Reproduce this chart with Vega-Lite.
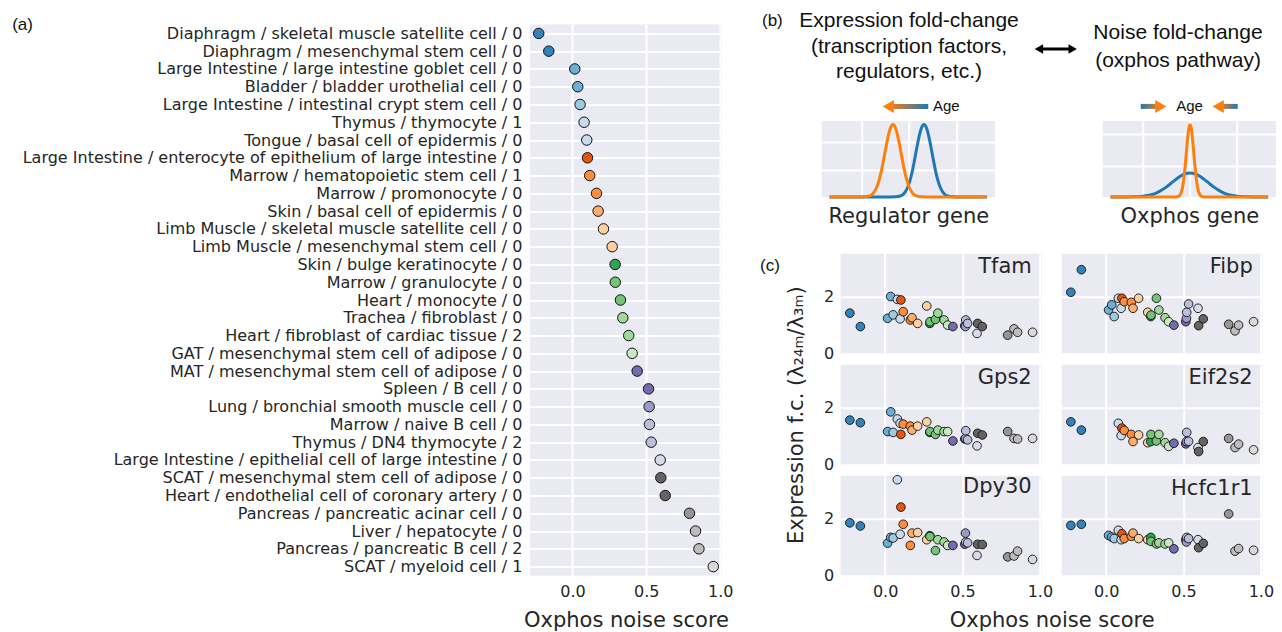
{
  "$schema": "https://vega.github.io/schema/vega-lite/v6.json",
  "padding": {"left": 12, "top": 9.5, "right": 0, "bottom": 0},
  "config": {
    "font": "DejaVu Sans",
    "view": {"fill": "#EAEAF2", "stroke": null},
    "axis": {"domain": false, "ticks": false, "gridColor": "#ffffff", "gridWidth": 2, "gridOpacity": 1, "labelColor": "#262626", "titleColor": "#262626", "labelFont": "DejaVu Sans", "titleFont": "DejaVu Sans", "labelFontSize": 16, "titleFontSize": 21, "titleFontWeight": "normal", "labelPadding": 8},
    "title": {"fontWeight": "normal", "color": "#111111"},
    "range": {"category": ["#3182bd","#3182bd","#6baed6","#6baed6","#9ecae1","#c6dbef","#c6dbef","#e6550d","#fd8d3c","#fd8d3c","#fdae6b","#fdd0a2","#fdd0a2","#31a354","#74c476","#74c476","#a1d99b","#a1d99b","#c7e9c0","#756bb1","#756bb1","#9e9ac8","#bcbddc","#bcbddc","#dadaeb","#636363","#636363","#969696","#bdbdbd","#bdbdbd","#d9d9d9"]},
    "circle": {"stroke": "#111111", "opacity": 1}
  },
  "datasets": {
    "cells": [
      {"k": 1, "cell": "Diaphragm / skeletal muscle satellite cell / 0", "noise": -0.228},
      {"k": 2, "cell": "Diaphragm / mesenchymal stem cell / 0", "noise": -0.160},
      {"k": 3, "cell": "Large Intestine / large intestine goblet cell / 0", "noise": 0.016},
      {"k": 4, "cell": "Bladder / bladder urothelial cell / 0", "noise": 0.036},
      {"k": 5, "cell": "Large Intestine / intestinal crypt stem cell / 0", "noise": 0.052},
      {"k": 6, "cell": "Thymus / thymocyte / 1", "noise": 0.079},
      {"k": 7, "cell": "Tongue / basal cell of epidermis / 0", "noise": 0.097},
      {"k": 8, "cell": "Large Intestine / enterocyte of epithelium of large intestine / 0", "noise": 0.102},
      {"k": 9, "cell": "Marrow / hematopoietic stem cell / 1", "noise": 0.117},
      {"k": 10, "cell": "Marrow / promonocyte / 0", "noise": 0.163},
      {"k": 11, "cell": "Skin / basal cell of epidermis / 0", "noise": 0.174},
      {"k": 12, "cell": "Limb Muscle / skeletal muscle satellite cell / 0", "noise": 0.210},
      {"k": 13, "cell": "Limb Muscle / mesenchymal stem cell / 0", "noise": 0.269},
      {"k": 14, "cell": "Skin / bulge keratinocyte / 0", "noise": 0.289},
      {"k": 15, "cell": "Marrow / granulocyte / 0", "noise": 0.290},
      {"k": 16, "cell": "Heart / monocyte / 0", "noise": 0.325},
      {"k": 17, "cell": "Trachea / fibroblast / 0", "noise": 0.341},
      {"k": 18, "cell": "Heart / fibroblast of cardiac tissue / 2", "noise": 0.381},
      {"k": 19, "cell": "GAT / mesenchymal stem cell of adipose / 0", "noise": 0.404},
      {"k": 20, "cell": "MAT / mesenchymal stem cell of adipose / 0", "noise": 0.438},
      {"k": 21, "cell": "Spleen / B cell / 0", "noise": 0.515},
      {"k": 22, "cell": "Lung / bronchial smooth muscle cell / 0", "noise": 0.519},
      {"k": 23, "cell": "Marrow / naive B cell / 0", "noise": 0.521},
      {"k": 24, "cell": "Thymus / DN4 thymocyte / 2", "noise": 0.533},
      {"k": 25, "cell": "Large Intestine / epithelial cell of large intestine / 0", "noise": 0.594},
      {"k": 26, "cell": "SCAT / mesenchymal stem cell of adipose / 0", "noise": 0.598},
      {"k": 27, "cell": "Heart / endothelial cell of coronary artery / 0", "noise": 0.628},
      {"k": 28, "cell": "Pancreas / pancreatic acinar cell / 0", "noise": 0.792},
      {"k": 29, "cell": "Liver / hepatocyte / 0", "noise": 0.833},
      {"k": 30, "cell": "Pancreas / pancreatic B cell / 2", "noise": 0.856},
      {"k": 31, "cell": "SCAT / myeloid cell / 1", "noise": 0.953}
    ],
    "fc": [
      {"g": "Tfam", "k": 1, "fc": 1.42}, {"g": "Tfam", "k": 2, "fc": 0.95}, {"g": "Tfam", "k": 3, "fc": 1.24}, {"g": "Tfam", "k": 4, "fc": 2.0}, {"g": "Tfam", "k": 5, "fc": 1.36}, {"g": "Tfam", "k": 6, "fc": 1.9}, {"g": "Tfam", "k": 7, "fc": 1.22}, {"g": "Tfam", "k": 8, "fc": 1.88}, {"g": "Tfam", "k": 9, "fc": 1.47}, {"g": "Tfam", "k": 10, "fc": 1.18}, {"g": "Tfam", "k": 11, "fc": 1.26}, {"g": "Tfam", "k": 12, "fc": 1.06}, {"g": "Tfam", "k": 13, "fc": 1.67}, {"g": "Tfam", "k": 14, "fc": 1.06}, {"g": "Tfam", "k": 15, "fc": 1.12}, {"g": "Tfam", "k": 16, "fc": 1.2}, {"g": "Tfam", "k": 17, "fc": 1.42}, {"g": "Tfam", "k": 18, "fc": 1.18}, {"g": "Tfam", "k": 19, "fc": 1.0}, {"g": "Tfam", "k": 20, "fc": 0.95}, {"g": "Tfam", "k": 21, "fc": 0.98}, {"g": "Tfam", "k": 22, "fc": 0.95}, {"g": "Tfam", "k": 23, "fc": 1.18}, {"g": "Tfam", "k": 24, "fc": 1.06}, {"g": "Tfam", "k": 25, "fc": 0.71}, {"g": "Tfam", "k": 26, "fc": 1.06}, {"g": "Tfam", "k": 27, "fc": 0.95}, {"g": "Tfam", "k": 28, "fc": 0.65}, {"g": "Tfam", "k": 29, "fc": 0.87}, {"g": "Tfam", "k": 30, "fc": 0.75}, {"g": "Tfam", "k": 31, "fc": 0.75},
      {"g": "Fibp", "k": 1, "fc": 2.15}, {"g": "Fibp", "k": 2, "fc": 2.94}, {"g": "Fibp", "k": 3, "fc": 1.53}, {"g": "Fibp", "k": 4, "fc": 1.71}, {"g": "Fibp", "k": 5, "fc": 1.3}, {"g": "Fibp", "k": 6, "fc": 1.94}, {"g": "Fibp", "k": 7, "fc": 1.59}, {"g": "Fibp", "k": 8, "fc": 1.94}, {"g": "Fibp", "k": 9, "fc": 1.82}, {"g": "Fibp", "k": 10, "fc": 1.8}, {"g": "Fibp", "k": 11, "fc": 1.59}, {"g": "Fibp", "k": 12, "fc": 1.94}, {"g": "Fibp", "k": 13, "fc": 1.45}, {"g": "Fibp", "k": 14, "fc": 1.3}, {"g": "Fibp", "k": 15, "fc": 1.35}, {"g": "Fibp", "k": 16, "fc": 1.94}, {"g": "Fibp", "k": 17, "fc": 1.53}, {"g": "Fibp", "k": 18, "fc": 1.26}, {"g": "Fibp", "k": 19, "fc": 1.12}, {"g": "Fibp", "k": 20, "fc": 1.0}, {"g": "Fibp", "k": 21, "fc": 1.12}, {"g": "Fibp", "k": 22, "fc": 1.24}, {"g": "Fibp", "k": 23, "fc": 1.45}, {"g": "Fibp", "k": 24, "fc": 1.74}, {"g": "Fibp", "k": 25, "fc": 1.59}, {"g": "Fibp", "k": 26, "fc": 0.98}, {"g": "Fibp", "k": 27, "fc": 1.22}, {"g": "Fibp", "k": 28, "fc": 1.03}, {"g": "Fibp", "k": 29, "fc": 0.8}, {"g": "Fibp", "k": 30, "fc": 1.0}, {"g": "Fibp", "k": 31, "fc": 1.12},
      {"g": "Gps2", "k": 1, "fc": 1.56}, {"g": "Gps2", "k": 2, "fc": 1.47}, {"g": "Gps2", "k": 3, "fc": 1.16}, {"g": "Gps2", "k": 4, "fc": 1.85}, {"g": "Gps2", "k": 5, "fc": 1.13}, {"g": "Gps2", "k": 6, "fc": 1.6}, {"g": "Gps2", "k": 7, "fc": 1.45}, {"g": "Gps2", "k": 8, "fc": 1.06}, {"g": "Gps2", "k": 9, "fc": 1.42}, {"g": "Gps2", "k": 10, "fc": 1.35}, {"g": "Gps2", "k": 11, "fc": 1.21}, {"g": "Gps2", "k": 12, "fc": 1.35}, {"g": "Gps2", "k": 13, "fc": 1.5}, {"g": "Gps2", "k": 14, "fc": 1.13}, {"g": "Gps2", "k": 15, "fc": 1.16}, {"g": "Gps2", "k": 16, "fc": 1.06}, {"g": "Gps2", "k": 17, "fc": 1.21}, {"g": "Gps2", "k": 18, "fc": 1.16}, {"g": "Gps2", "k": 19, "fc": 1.16}, {"g": "Gps2", "k": 20, "fc": 0.83}, {"g": "Gps2", "k": 21, "fc": 0.9}, {"g": "Gps2", "k": 22, "fc": 0.92}, {"g": "Gps2", "k": 23, "fc": 1.19}, {"g": "Gps2", "k": 24, "fc": 0.87}, {"g": "Gps2", "k": 25, "fc": 0.66}, {"g": "Gps2", "k": 26, "fc": 1.1}, {"g": "Gps2", "k": 27, "fc": 1.04}, {"g": "Gps2", "k": 28, "fc": 1.16}, {"g": "Gps2", "k": 29, "fc": 0.92}, {"g": "Gps2", "k": 30, "fc": 0.9}, {"g": "Gps2", "k": 31, "fc": 0.92},
      {"g": "Eif2s2", "k": 1, "fc": 1.5}, {"g": "Eif2s2", "k": 2, "fc": 1.21}, {"g": "Eif2s2", "k": 6, "fc": 1.45}, {"g": "Eif2s2", "k": 7, "fc": 1.02}, {"g": "Eif2s2", "k": 8, "fc": 1.28}, {"g": "Eif2s2", "k": 9, "fc": 1.2}, {"g": "Eif2s2", "k": 10, "fc": 1.06}, {"g": "Eif2s2", "k": 11, "fc": 0.81}, {"g": "Eif2s2", "k": 12, "fc": 1.04}, {"g": "Eif2s2", "k": 13, "fc": 0.77}, {"g": "Eif2s2", "k": 14, "fc": 0.81}, {"g": "Eif2s2", "k": 15, "fc": 1.06}, {"g": "Eif2s2", "k": 16, "fc": 0.83}, {"g": "Eif2s2", "k": 17, "fc": 1.06}, {"g": "Eif2s2", "k": 18, "fc": 0.77}, {"g": "Eif2s2", "k": 19, "fc": 0.64}, {"g": "Eif2s2", "k": 20, "fc": 0.75}, {"g": "Eif2s2", "k": 21, "fc": 0.73}, {"g": "Eif2s2", "k": 22, "fc": 0.81}, {"g": "Eif2s2", "k": 23, "fc": 1.13}, {"g": "Eif2s2", "k": 24, "fc": 0.82}, {"g": "Eif2s2", "k": 25, "fc": 0.6}, {"g": "Eif2s2", "k": 26, "fc": 0.46}, {"g": "Eif2s2", "k": 27, "fc": 0.81}, {"g": "Eif2s2", "k": 28, "fc": 0.92}, {"g": "Eif2s2", "k": 29, "fc": 0.6}, {"g": "Eif2s2", "k": 30, "fc": 0.72}, {"g": "Eif2s2", "k": 31, "fc": 0.52},
      {"g": "Dpy30", "k": 1, "fc": 1.85}, {"g": "Dpy30", "k": 2, "fc": 1.74}, {"g": "Dpy30", "k": 3, "fc": 1.14}, {"g": "Dpy30", "k": 4, "fc": 1.34}, {"g": "Dpy30", "k": 5, "fc": 1.32}, {"g": "Dpy30", "k": 6, "fc": 3.36}, {"g": "Dpy30", "k": 7, "fc": 1.45}, {"g": "Dpy30", "k": 8, "fc": 2.4}, {"g": "Dpy30", "k": 9, "fc": 1.8}, {"g": "Dpy30", "k": 10, "fc": 1.06}, {"g": "Dpy30", "k": 11, "fc": 1.49}, {"g": "Dpy30", "k": 12, "fc": 1.51}, {"g": "Dpy30", "k": 13, "fc": 1.26}, {"g": "Dpy30", "k": 14, "fc": 1.4}, {"g": "Dpy30", "k": 15, "fc": 1.37}, {"g": "Dpy30", "k": 16, "fc": 0.88}, {"g": "Dpy30", "k": 17, "fc": 1.26}, {"g": "Dpy30", "k": 18, "fc": 1.18}, {"g": "Dpy30", "k": 19, "fc": 1.06}, {"g": "Dpy30", "k": 20, "fc": 1.06}, {"g": "Dpy30", "k": 21, "fc": 1.1}, {"g": "Dpy30", "k": 22, "fc": 1.49}, {"g": "Dpy30", "k": 23, "fc": 1.18}, {"g": "Dpy30", "k": 24, "fc": 1.15}, {"g": "Dpy30", "k": 25, "fc": 0.71}, {"g": "Dpy30", "k": 26, "fc": 1.1}, {"g": "Dpy30", "k": 27, "fc": 1.09}, {"g": "Dpy30", "k": 28, "fc": 0.66}, {"g": "Dpy30", "k": 29, "fc": 0.69}, {"g": "Dpy30", "k": 30, "fc": 0.86}, {"g": "Dpy30", "k": 31, "fc": 0.57},
      {"g": "Hcfc1r1", "k": 1, "fc": 1.76}, {"g": "Hcfc1r1", "k": 2, "fc": 1.8}, {"g": "Hcfc1r1", "k": 3, "fc": 1.41}, {"g": "Hcfc1r1", "k": 4, "fc": 1.35}, {"g": "Hcfc1r1", "k": 5, "fc": 1.3}, {"g": "Hcfc1r1", "k": 6, "fc": 1.59}, {"g": "Hcfc1r1", "k": 7, "fc": 1.26}, {"g": "Hcfc1r1", "k": 8, "fc": 1.47}, {"g": "Hcfc1r1", "k": 9, "fc": 1.3}, {"g": "Hcfc1r1", "k": 10, "fc": 1.38}, {"g": "Hcfc1r1", "k": 11, "fc": 1.49}, {"g": "Hcfc1r1", "k": 12, "fc": 1.3}, {"g": "Hcfc1r1", "k": 13, "fc": 1.26}, {"g": "Hcfc1r1", "k": 14, "fc": 1.34}, {"g": "Hcfc1r1", "k": 15, "fc": 1.2}, {"g": "Hcfc1r1", "k": 16, "fc": 1.11}, {"g": "Hcfc1r1", "k": 17, "fc": 1.15}, {"g": "Hcfc1r1", "k": 18, "fc": 1.11}, {"g": "Hcfc1r1", "k": 19, "fc": 1.15}, {"g": "Hcfc1r1", "k": 20, "fc": 0.94}, {"g": "Hcfc1r1", "k": 21, "fc": 1.26}, {"g": "Hcfc1r1", "k": 22, "fc": 1.18}, {"g": "Hcfc1r1", "k": 23, "fc": 1.34}, {"g": "Hcfc1r1", "k": 24, "fc": 1.3}, {"g": "Hcfc1r1", "k": 25, "fc": 1.26}, {"g": "Hcfc1r1", "k": 26, "fc": 0.98}, {"g": "Hcfc1r1", "k": 27, "fc": 1.13}, {"g": "Hcfc1r1", "k": 28, "fc": 2.16}, {"g": "Hcfc1r1", "k": 29, "fc": 0.86}, {"g": "Hcfc1r1", "k": 30, "fc": 0.95}, {"g": "Hcfc1r1", "k": 31, "fc": 0.89}
    ],
    "reg": [
      {"age": "3m", "x": -1.67, "y": 0}, {"age": "3m", "x": -0.39, "y": 0}, {"age": "3m", "x": -0.29, "y": 0.005}, {"age": "3m", "x": -0.19, "y": 0.035}, {"age": "3m", "x": -0.14, "y": 0.08}, {"age": "3m", "x": -0.09, "y": 0.17}, {"age": "3m", "x": -0.04, "y": 0.32}, {"age": "3m", "x": 0.01, "y": 0.56}, {"age": "3m", "x": 0.06, "y": 0.9}, {"age": "3m", "x": 0.11, "y": 1.33}, {"age": "3m", "x": 0.16, "y": 1.8}, {"age": "3m", "x": 0.21, "y": 2.23}, {"age": "3m", "x": 0.26, "y": 2.54}, {"age": "3m", "x": 0.31, "y": 2.65}, {"age": "3m", "x": 0.36, "y": 2.54}, {"age": "3m", "x": 0.41, "y": 2.23}, {"age": "3m", "x": 0.46, "y": 1.8}, {"age": "3m", "x": 0.51, "y": 1.33}, {"age": "3m", "x": 0.56, "y": 0.9}, {"age": "3m", "x": 0.61, "y": 0.56}, {"age": "3m", "x": 0.66, "y": 0.32}, {"age": "3m", "x": 0.71, "y": 0.17}, {"age": "3m", "x": 0.76, "y": 0.08}, {"age": "3m", "x": 0.81, "y": 0.035}, {"age": "3m", "x": 0.91, "y": 0.005}, {"age": "3m", "x": 1.01, "y": 0}, {"age": "3m", "x": 1.63, "y": 0},
      {"age": "24m", "x": -1.67, "y": 0}, {"age": "24m", "x": -1.04, "y": 0}, {"age": "24m", "x": -0.94, "y": 0.005}, {"age": "24m", "x": -0.84, "y": 0.035}, {"age": "24m", "x": -0.79, "y": 0.08}, {"age": "24m", "x": -0.74, "y": 0.17}, {"age": "24m", "x": -0.69, "y": 0.32}, {"age": "24m", "x": -0.64, "y": 0.56}, {"age": "24m", "x": -0.59, "y": 0.9}, {"age": "24m", "x": -0.54, "y": 1.33}, {"age": "24m", "x": -0.49, "y": 1.8}, {"age": "24m", "x": -0.44, "y": 2.23}, {"age": "24m", "x": -0.39, "y": 2.54}, {"age": "24m", "x": -0.34, "y": 2.65}, {"age": "24m", "x": -0.29, "y": 2.54}, {"age": "24m", "x": -0.24, "y": 2.23}, {"age": "24m", "x": -0.19, "y": 1.8}, {"age": "24m", "x": -0.14, "y": 1.33}, {"age": "24m", "x": -0.09, "y": 0.9}, {"age": "24m", "x": -0.04, "y": 0.56}, {"age": "24m", "x": 0.01, "y": 0.32}, {"age": "24m", "x": 0.06, "y": 0.17}, {"age": "24m", "x": 0.11, "y": 0.08}, {"age": "24m", "x": 0.16, "y": 0.035}, {"age": "24m", "x": 0.26, "y": 0.005}, {"age": "24m", "x": 0.36, "y": 0}, {"age": "24m", "x": 1.63, "y": 0}
    ],
    "oxg": [
      {"age": "3m", "x": -1.69, "y": 0}, {"age": "3m", "x": -1.35, "y": 0}, {"age": "3m", "x": -1.2, "y": 0.005}, {"age": "3m", "x": -1.1, "y": 0.012}, {"age": "3m", "x": -1.0, "y": 0.024}, {"age": "3m", "x": -0.9, "y": 0.047}, {"age": "3m", "x": -0.8, "y": 0.084}, {"age": "3m", "x": -0.7, "y": 0.141}, {"age": "3m", "x": -0.6, "y": 0.221}, {"age": "3m", "x": -0.5, "y": 0.324}, {"age": "3m", "x": -0.4, "y": 0.443}, {"age": "3m", "x": -0.3, "y": 0.564}, {"age": "3m", "x": -0.2, "y": 0.67}, {"age": "3m", "x": -0.1, "y": 0.744}, {"age": "3m", "x": 0, "y": 0.77}, {"age": "3m", "x": 0.1, "y": 0.744}, {"age": "3m", "x": 0.2, "y": 0.67}, {"age": "3m", "x": 0.3, "y": 0.564}, {"age": "3m", "x": 0.4, "y": 0.443}, {"age": "3m", "x": 0.5, "y": 0.324}, {"age": "3m", "x": 0.6, "y": 0.221}, {"age": "3m", "x": 0.7, "y": 0.141}, {"age": "3m", "x": 0.8, "y": 0.084}, {"age": "3m", "x": 0.9, "y": 0.047}, {"age": "3m", "x": 1.0, "y": 0.024}, {"age": "3m", "x": 1.1, "y": 0.012}, {"age": "3m", "x": 1.2, "y": 0.005}, {"age": "3m", "x": 1.35, "y": 0}, {"age": "3m", "x": 1.66, "y": 0},
      {"age": "24m", "x": -1.69, "y": 0}, {"age": "24m", "x": -0.32, "y": 0}, {"age": "24m", "x": -0.28, "y": 0.005}, {"age": "24m", "x": -0.24, "y": 0.026}, {"age": "24m", "x": -0.2, "y": 0.1}, {"age": "24m", "x": -0.18, "y": 0.18}, {"age": "24m", "x": -0.16, "y": 0.31}, {"age": "24m", "x": -0.14, "y": 0.5}, {"age": "24m", "x": -0.12, "y": 0.75}, {"age": "24m", "x": -0.1, "y": 1.06}, {"age": "24m", "x": -0.08, "y": 1.4}, {"age": "24m", "x": -0.06, "y": 1.74}, {"age": "24m", "x": -0.04, "y": 2.04}, {"age": "24m", "x": -0.02, "y": 2.24}, {"age": "24m", "x": 0, "y": 2.31}, {"age": "24m", "x": 0.02, "y": 2.24}, {"age": "24m", "x": 0.04, "y": 2.04}, {"age": "24m", "x": 0.06, "y": 1.74}, {"age": "24m", "x": 0.08, "y": 1.4}, {"age": "24m", "x": 0.1, "y": 1.06}, {"age": "24m", "x": 0.12, "y": 0.75}, {"age": "24m", "x": 0.14, "y": 0.5}, {"age": "24m", "x": 0.16, "y": 0.31}, {"age": "24m", "x": 0.18, "y": 0.18}, {"age": "24m", "x": 0.2, "y": 0.1}, {"age": "24m", "x": 0.24, "y": 0.026}, {"age": "24m", "x": 0.28, "y": 0.005}, {"age": "24m", "x": 0.32, "y": 0}, {"age": "24m", "x": 1.66, "y": 0}
    ]
  },
  "spacing": 26.7,
  "hconcat": [
    {
      "width": 192,
      "height": 551,
      "data": {"name": "cells"},
      "title": {"text": "(a)", "anchor": "start", "frame": "bounds", "orient": "top", "font": "Liberation Sans", "fontSize": 17, "baseline": "alphabetic", "offset": 0, "dx": -10, "dy": 22},
      "mark": {"type": "circle", "size": 110, "strokeWidth": 1},
      "encoding": {
        "y": {"field": "cell", "type": "nominal", "sort": null, "scale": {"type": "point", "padding": 0.5}, "axis": {"title": null, "grid": true, "labelLimit": 0}},
        "x": {"field": "noise", "type": "quantitative", "scale": {"domain": [-0.287, 1.012], "nice": false, "zero": false}, "axis": {"values": [0, 0.5, 1], "format": ".1f", "title": "Oxphos noise score", "titlePadding": 10, "grid": true}},
        "color": {"field": "k", "type": "nominal", "legend": null, "scale": {"domain": [1,2,3,4,5,6,7,8,9,10,11,12,13,14,15,16,17,18,19,20,21,22,23,24,25,26,27,28,29,30,31]}}
      }
    },
    {
      "spacing": 27.2,
      "vconcat": [
        {
          "spacing": 1.5,
          "vconcat": [
            {
              "width": 454.3,
              "height": 92,
              "view": {"fill": null, "stroke": null},
              "data": {"values": [{}]},
              "layer": [
                {
                  "mark": {"type": "text", "text": "(b)", "align": "left", "baseline": "middle", "font": "Liberation Sans", "fontSize": 17, "color": "#111111"},
                  "encoding": {
                    "x": {"datum": -0.1314, "type": "quantitative", "scale": {"domain": [0, 1], "nice": false, "zero": false}, "axis": null},
                    "y": {"datum": 1.0413, "type": "quantitative", "scale": {"domain": [0, 1], "nice": false, "zero": false}, "axis": null}
                  }
                },
                {
                  "mark": {"type": "text", "text": ["Expression fold-change", "(transcription factors,", "regulators, etc.)"], "lineHeight": 25.85, "align": "center", "baseline": "middle", "font": "Liberation Sans", "fontSize": 21, "color": "#111111"},
                  "encoding": {"x": {"datum": 0.1922, "type": "quantitative", "axis": null}, "y": {"datum": 1.0413, "type": "quantitative", "axis": null}}
                },
                {
                  "mark": {"type": "text", "text": ["Noise fold-change", "(oxphos pathway)"], "lineHeight": 27.7, "align": "center", "baseline": "middle", "font": "Liberation Sans", "fontSize": 21, "color": "#111111"},
                  "encoding": {"x": {"datum": 0.7843, "type": "quantitative", "axis": null}, "y": {"datum": 0.9076, "type": "quantitative", "axis": null}}
                },
                {
                  "mark": {"type": "rect", "color": "#000000"},
                  "encoding": {"x": {"datum": 0.4781, "type": "quantitative", "axis": null}, "x2": {"datum": 0.5525}, "y": {"datum": 0.7185, "type": "quantitative", "axis": null}, "y2": {"datum": 0.7489}}
                },
                {
                  "mark": {"type": "point", "shape": "triangle-left", "filled": true, "color": "#000000", "opacity": 1, "size": 94, "strokeWidth": 0},
                  "encoding": {"x": {"datum": 0.4781, "type": "quantitative", "axis": null}, "y": {"datum": 0.7337, "type": "quantitative", "axis": null}}
                },
                {
                  "mark": {"type": "point", "shape": "triangle-right", "filled": true, "color": "#000000", "opacity": 1, "size": 94, "strokeWidth": 0},
                  "encoding": {"x": {"datum": 0.5525, "type": "quantitative", "axis": null}, "y": {"datum": 0.7337, "type": "quantitative", "axis": null}}
                },
                {
                  "mark": {"type": "rect", "fill": {"gradient": "linear", "x1": 0, "y1": 0, "x2": 1, "y2": 0, "stops": [{"offset": 0, "color": "#ff7f0e"}, {"offset": 1, "color": "#1f77b4"}]}},
                  "encoding": {"x": {"datum": 0.1464, "type": "quantitative", "axis": null}, "x2": {"datum": 0.2346}, "y": {"datum": 0.0826, "type": "quantitative", "axis": null}, "y2": {"datum": 0.137}}
                },
                {
                  "mark": {"type": "point", "shape": "triangle-left", "filled": true, "color": "#ff7f0e", "opacity": 1, "size": 169, "strokeWidth": 0},
                  "encoding": {"x": {"datum": 0.1464, "type": "quantitative", "axis": null}, "y": {"datum": 0.1098, "type": "quantitative", "axis": null}}
                },
                {
                  "mark": {"type": "text", "text": "Age", "align": "left", "baseline": "middle", "font": "Liberation Sans", "fontSize": 15, "color": "#111111"},
                  "encoding": {"x": {"datum": 0.245, "type": "quantitative", "axis": null}, "y": {"datum": 0.1098, "type": "quantitative", "axis": null}}
                },
                {
                  "mark": {"type": "rect", "fill": {"gradient": "linear", "x1": 0, "y1": 0, "x2": 1, "y2": 0, "stops": [{"offset": 0, "color": "#1f77b4"}, {"offset": 1, "color": "#ff7f0e"}]}},
                  "encoding": {"x": {"datum": 0.7022, "type": "quantitative", "axis": null}, "x2": {"datum": 0.7464}, "y": {"datum": 0.0826, "type": "quantitative", "axis": null}, "y2": {"datum": 0.137}}
                },
                {
                  "mark": {"type": "point", "shape": "triangle-right", "filled": true, "color": "#ff7f0e", "opacity": 1, "size": 169, "strokeWidth": 0},
                  "encoding": {"x": {"datum": 0.7464, "type": "quantitative", "axis": null}, "y": {"datum": 0.1098, "type": "quantitative", "axis": null}}
                },
                {
                  "mark": {"type": "text", "text": "Age", "align": "center", "baseline": "middle", "font": "Liberation Sans", "fontSize": 15, "color": "#111111"},
                  "encoding": {"x": {"datum": 0.8096, "type": "quantitative", "axis": null}, "y": {"datum": 0.1098, "type": "quantitative", "axis": null}}
                },
                {
                  "mark": {"type": "rect", "fill": {"gradient": "linear", "x1": 0, "y1": 0, "x2": 1, "y2": 0, "stops": [{"offset": 0, "color": "#ff7f0e"}, {"offset": 1, "color": "#1f77b4"}]}},
                  "encoding": {"x": {"datum": 0.8728, "type": "quantitative", "axis": null}, "x2": {"datum": 0.9157}, "y": {"datum": 0.0826, "type": "quantitative", "axis": null}, "y2": {"datum": 0.137}}
                },
                {
                  "mark": {"type": "point", "shape": "triangle-left", "filled": true, "color": "#ff7f0e", "opacity": 1, "size": 169, "strokeWidth": 0},
                  "encoding": {"x": {"datum": 0.8728, "type": "quantitative", "axis": null}, "y": {"datum": 0.1098, "type": "quantitative", "axis": null}}
                }
              ]
            },
            {
              "bounds": "flush",
              "spacing": 107,
              "hconcat": [
                {
                  "width": 173.3,
                  "height": 76,
                  "data": {"name": "reg"},
                  "layer": [
                    {
                      "transform": [{"filter": "datum.age == '3m'"}],
                      "mark": {"type": "line", "color": "#1f77b4", "strokeWidth": 3, "interpolate": "monotone"},
                      "encoding": {
                        "x": {"field": "x", "type": "quantitative", "scale": {"domain": [-1.835, 1.8], "nice": false, "zero": false}, "axis": {"title": "Regulator gene", "labels": false, "values": [-1, 0, 1], "titlePadding": 8}},
                        "y": {"field": "y", "type": "quantitative", "scale": {"domain": [0, 2.78], "nice": false}, "axis": {"title": null, "labels": false, "values": [1, 2]}}
                      }
                    },
                    {
                      "transform": [{"filter": "datum.age == '24m'"}],
                      "mark": {"type": "line", "color": "#ff7f0e", "strokeWidth": 3, "interpolate": "monotone"},
                      "encoding": {"x": {"field": "x", "type": "quantitative"}, "y": {"field": "y", "type": "quantitative"}}
                    }
                  ]
                },
                {
                  "width": 173.3,
                  "height": 76,
                  "data": {"name": "oxg"},
                  "layer": [
                    {
                      "transform": [{"filter": "datum.age == '3m'"}],
                      "mark": {"type": "line", "color": "#1f77b4", "strokeWidth": 3, "interpolate": "monotone"},
                      "encoding": {
                        "x": {"field": "x", "type": "quantitative", "scale": {"domain": [-1.857, 1.827], "nice": false, "zero": false}, "axis": {"title": "Oxphos gene", "labels": false, "values": [-1, 0, 1], "titlePadding": 8}},
                        "y": {"field": "y", "type": "quantitative", "scale": {"domain": [0, 2.43], "nice": false}, "axis": {"title": null, "labels": false, "values": [1, 2]}}
                      }
                    },
                    {
                      "transform": [{"filter": "datum.age == '24m'"}],
                      "mark": {"type": "line", "color": "#ff7f0e", "strokeWidth": 3, "interpolate": "monotone"},
                      "encoding": {"x": {"field": "x", "type": "quantitative"}, "y": {"field": "y", "type": "quantitative"}}
                    }
                  ]
                }
              ]
            }
          ]
        },
        {
          "spacing": 0.01,
          "hconcat": [
            {
              "width": 0.01,
              "height": 322,
              "view": {"fill": null, "stroke": null},
              "data": {"values": []},
              "title": {"text": "(c)", "anchor": "start", "frame": "group", "orient": "top", "font": "Liberation Sans", "fontSize": 17, "baseline": "alphabetic", "offset": 0, "dx": -61.7, "dy": 34.5},
              "mark": "point",
              "encoding": {
                "y": {"field": "v", "type": "quantitative", "scale": {"domain": [0, 3.5]}, "axis": {"title": "Expression f.c. (λ₂₄ₘ/λ₃ₘ)", "labels": false, "grid": false, "titlePadding": 15.7}}
              }
            },
            {
              "bounds": "flush",
              "columns": 2,
              "spacing": {"row": 11, "column": 20},
              "concat": [
                {
                  "width": 201, "height": 100,
                  "data": {"name": "fc"},
                  "transform": [{"filter": "datum.g == 'Tfam'"}, {"lookup": "k", "from": {"data": {"name": "cells"}, "key": "k", "fields": ["noise"]}}],
                  "title": {"text": "Tfam", "orient": "top", "anchor": "end", "frame": "group", "font": "DejaVu Sans", "fontSize": 21, "color": "#262626", "baseline": "alphabetic", "offset": 0, "dx": -10, "dy": 40},
                  "mark": {"type": "circle", "size": 75, "strokeWidth": 0.9},
                  "encoding": {
                    "x": {"field": "noise", "type": "quantitative", "scale": {"domain": [-0.287, 1.012], "nice": false, "zero": false}, "axis": {"values": [0, 0.5, 1], "labels": false, "title": null}},
                    "y": {"field": "fc", "type": "quantitative", "scale": {"domain": [0, 3.5], "nice": false}, "axis": {"values": [0, 2], "title": null, "labelPadding": 7}},
                    "color": {"field": "k", "type": "nominal", "legend": null, "scale": {"domain": [1,2,3,4,5,6,7,8,9,10,11,12,13,14,15,16,17,18,19,20,21,22,23,24,25,26,27,28,29,30,31]}}
                  }
                },
                {
                  "width": 201, "height": 100,
                  "data": {"name": "fc"},
                  "transform": [{"filter": "datum.g == 'Fibp'"}, {"lookup": "k", "from": {"data": {"name": "cells"}, "key": "k", "fields": ["noise"]}}],
                  "title": {"text": "Fibp", "orient": "top", "anchor": "end", "frame": "group", "font": "DejaVu Sans", "fontSize": 21, "color": "#262626", "baseline": "alphabetic", "offset": 0, "dx": -10, "dy": 40},
                  "mark": {"type": "circle", "size": 75, "strokeWidth": 0.9},
                  "encoding": {
                    "x": {"field": "noise", "type": "quantitative", "scale": {"domain": [-0.287, 1.012], "nice": false, "zero": false}, "axis": {"values": [0, 0.5, 1], "labels": false, "title": null}},
                    "y": {"field": "fc", "type": "quantitative", "scale": {"domain": [0, 3.5], "nice": false}, "axis": {"values": [0, 2], "labels": false, "title": null}},
                    "color": {"field": "k", "type": "nominal", "legend": null, "scale": {"domain": [1,2,3,4,5,6,7,8,9,10,11,12,13,14,15,16,17,18,19,20,21,22,23,24,25,26,27,28,29,30,31]}}
                  }
                },
                {
                  "width": 201, "height": 100,
                  "data": {"name": "fc"},
                  "transform": [{"filter": "datum.g == 'Gps2'"}, {"lookup": "k", "from": {"data": {"name": "cells"}, "key": "k", "fields": ["noise"]}}],
                  "title": {"text": "Gps2", "orient": "top", "anchor": "end", "frame": "group", "font": "DejaVu Sans", "fontSize": 21, "color": "#262626", "baseline": "alphabetic", "offset": 0, "dx": -10, "dy": 40},
                  "mark": {"type": "circle", "size": 75, "strokeWidth": 0.9},
                  "encoding": {
                    "x": {"field": "noise", "type": "quantitative", "scale": {"domain": [-0.287, 1.012], "nice": false, "zero": false}, "axis": {"values": [0, 0.5, 1], "labels": false, "title": null}},
                    "y": {"field": "fc", "type": "quantitative", "scale": {"domain": [0, 3.5], "nice": false}, "axis": {"values": [0, 2], "title": null, "labelPadding": 7}},
                    "color": {"field": "k", "type": "nominal", "legend": null, "scale": {"domain": [1,2,3,4,5,6,7,8,9,10,11,12,13,14,15,16,17,18,19,20,21,22,23,24,25,26,27,28,29,30,31]}}
                  }
                },
                {
                  "width": 201, "height": 100,
                  "data": {"name": "fc"},
                  "transform": [{"filter": "datum.g == 'Eif2s2'"}, {"lookup": "k", "from": {"data": {"name": "cells"}, "key": "k", "fields": ["noise"]}}],
                  "title": {"text": "Eif2s2", "orient": "top", "anchor": "end", "frame": "group", "font": "DejaVu Sans", "fontSize": 21, "color": "#262626", "baseline": "alphabetic", "offset": 0, "dx": -10, "dy": 40},
                  "mark": {"type": "circle", "size": 75, "strokeWidth": 0.9},
                  "encoding": {
                    "x": {"field": "noise", "type": "quantitative", "scale": {"domain": [-0.287, 1.012], "nice": false, "zero": false}, "axis": {"values": [0, 0.5, 1], "labels": false, "title": null}},
                    "y": {"field": "fc", "type": "quantitative", "scale": {"domain": [0, 3.5], "nice": false}, "axis": {"values": [0, 2], "labels": false, "title": null}},
                    "color": {"field": "k", "type": "nominal", "legend": null, "scale": {"domain": [1,2,3,4,5,6,7,8,9,10,11,12,13,14,15,16,17,18,19,20,21,22,23,24,25,26,27,28,29,30,31]}}
                  }
                },
                {
                  "width": 201, "height": 100,
                  "data": {"name": "fc"},
                  "transform": [{"filter": "datum.g == 'Dpy30'"}, {"lookup": "k", "from": {"data": {"name": "cells"}, "key": "k", "fields": ["noise"]}}],
                  "title": {"text": "Dpy30", "orient": "top", "anchor": "end", "frame": "group", "font": "DejaVu Sans", "fontSize": 21, "color": "#262626", "baseline": "alphabetic", "offset": 0, "dx": -10, "dy": 40},
                  "mark": {"type": "circle", "size": 75, "strokeWidth": 0.9},
                  "encoding": {
                    "x": {"field": "noise", "type": "quantitative", "scale": {"domain": [-0.287, 1.012], "nice": false, "zero": false}, "axis": {"values": [0, 0.5, 1], "format": ".1f", "title": "Oxphos noise score", "titlePadding": 10, "titleX": 211}},
                    "y": {"field": "fc", "type": "quantitative", "scale": {"domain": [0, 3.5], "nice": false}, "axis": {"values": [0, 2], "title": null, "labelPadding": 7}},
                    "color": {"field": "k", "type": "nominal", "legend": null, "scale": {"domain": [1,2,3,4,5,6,7,8,9,10,11,12,13,14,15,16,17,18,19,20,21,22,23,24,25,26,27,28,29,30,31]}}
                  }
                },
                {
                  "width": 201, "height": 100,
                  "data": {"name": "fc"},
                  "transform": [{"filter": "datum.g == 'Hcfc1r1'"}, {"lookup": "k", "from": {"data": {"name": "cells"}, "key": "k", "fields": ["noise"]}}],
                  "title": {"text": "Hcfc1r1", "orient": "top", "anchor": "end", "frame": "group", "font": "DejaVu Sans", "fontSize": 21, "color": "#262626", "baseline": "alphabetic", "offset": 0, "dx": -10, "dy": 40},
                  "mark": {"type": "circle", "size": 75, "strokeWidth": 0.9},
                  "encoding": {
                    "x": {"field": "noise", "type": "quantitative", "scale": {"domain": [-0.287, 1.012], "nice": false, "zero": false}, "axis": {"values": [0, 0.5, 1], "format": ".1f", "title": null}},
                    "y": {"field": "fc", "type": "quantitative", "scale": {"domain": [0, 3.5], "nice": false}, "axis": {"values": [0, 2], "labels": false, "title": null}},
                    "color": {"field": "k", "type": "nominal", "legend": null, "scale": {"domain": [1,2,3,4,5,6,7,8,9,10,11,12,13,14,15,16,17,18,19,20,21,22,23,24,25,26,27,28,29,30,31]}}
                  }
                }
              ]
            }
          ]
        }
      ]
    }
  ]
}
